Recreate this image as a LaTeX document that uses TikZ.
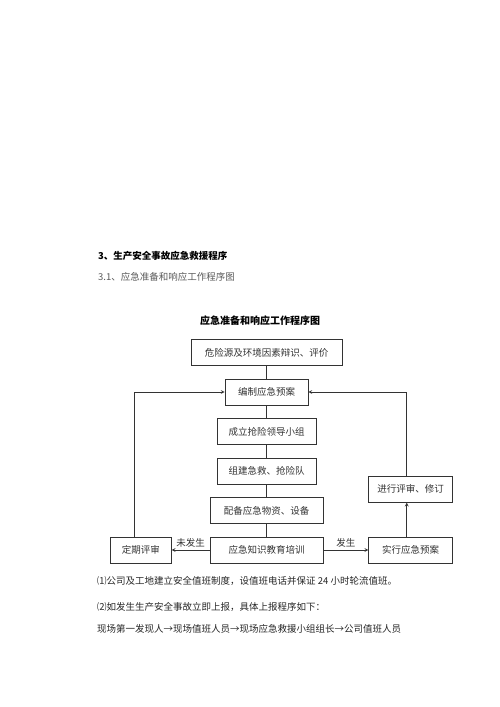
\documentclass[tikz,border=0pt]{standalone}
\usepackage{fontspec}
\setmainfont{Noto Sans CJK SC}
\usetikzlibrary{positioning}
\begin{document}
\begin{tikzpicture}[x=1pt,y=1pt,node distance=39.5pt]

% definitions
\tikzstyle{box} = [rectangle, minimum height=26pt, inner sep=0pt, text centered, draw=black!80, line width=0.7pt, text=black!80, font=\fontsize{9.5}{11}\selectfont]

\tikzstyle{para} = [anchor=west, inner sep=0pt, text=black!85, font=\fontsize{9.5}{11}\selectfont]

\tikzstyle{line} = [draw=black!80, line width=0.7pt]

\tikzstyle{arrow} = [line, ->, >=stealth]

\useasboundingbox (0,0) rectangle (500,-707);

% the text
\node (h0) [para, text=black, font=\fontsize{9.5}{11}\selectfont\bfseries] at (98,-256) {3、生产安全事故应急救援程序};

\node (h1) [para, text=black!65] at (98,-277) {3.1、应急准备和响应工作程序图};

\node (t0) [text=black, font=\fontsize{10}{12}\selectfont\bfseries] at (260,-321) {应急准备和响应工作程序图};

% the graph
\node (l0) [box, minimum width=151pt] at (266.5,-352.5) {危险源及环境因素辩识、评价};

\node (l1) [box, minimum width=83pt, below of=l0] {编制应急预案};

\node (l2) [box, minimum width=99pt, below of=l1] {成立抢险领导小组};

\node (l3) [box, minimum width=99pt, below of=l2] {组建急救、抢险队};

\node (l4) [box, minimum width=113pt, below of=l3] {配备应急物资、设备};

\node (l5) [box, minimum width=113pt, below of=l4] {应急知识教育培训};

\node (r0) [box, minimum width=61pt, left=38pt of l5] {定期评审};

\node (r1) [box, minimum width=84pt, right=45pt of l5] {实行应急预案};

\node (r2) [box, minimum width=84pt, above=34pt of r1] {进行评审、修订};

\draw [line] (l0) -- (l1);
\draw [line] (l1) -- (l2);
\draw [line] (l2) -- (l3);
\draw [line] (l3) -- (l4);
\draw [line] (l4) -- (l5);

\draw [arrow] (l5) -- node[above, inner sep=2pt, text=black!80, font=\fontsize{9.5}{11}\selectfont] {未发生} (r0);
\draw [arrow] (l5) -- node[above, inner sep=2pt, text=black!80, font=\fontsize{9.5}{11}\selectfont] {发生} (r1);
\draw [arrow] ([xshift=-6pt]r0.north) |- (l1);
\draw [arrow] ([xshift=-4pt]r1.north) -- ([xshift=-4pt]r2.south);
\draw [arrow] ([xshift=-4pt]r2.north) |- (l1);

% the text below
\node (p0) [para] at (97,-581) {⑴公司及工地建立安全值班制度，设值班电话并保证 24 小时轮流值班。};

\node (p1) [para] at (97,-607) {⑵如发生生产安全事故立即上报，具体上报程序如下：};

\node (p2) [para] at (97,-629) {现场第一发现人→现场值班人员→现场应急救援小组组长→公司值班人员};

\end{tikzpicture}
\end{document}
